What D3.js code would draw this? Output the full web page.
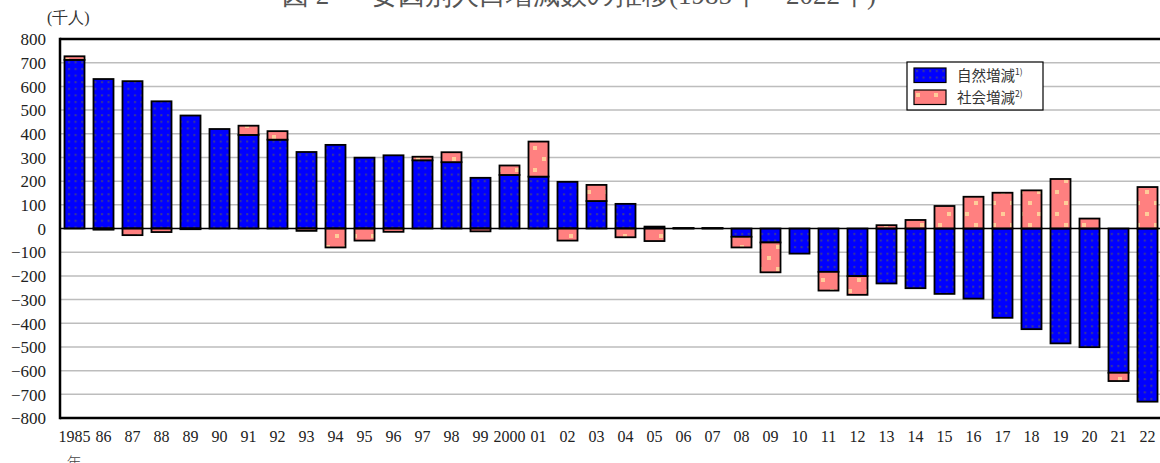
<!DOCTYPE html>
<html>
<head>
<meta charset="utf-8">
<script src="https://cdn.jsdelivr.net/npm/d3@7"></script>
<style>
  html, body { margin: 0; padding: 0; background: #fff; }
  svg { display: block; }
  .serif { font-family: "Liberation Serif", "Times New Roman", serif; }
  .jp { font-family: "Noto Sans CJK JP", sans-serif; }
</style>
</head>
<body>
<svg id="chart" width="1160" height="463"></svg>
<script>
// Population change by factor, thousands of persons
const years = [1985, 1986, 1987, 1988, 1989, 1990, 1991, 1992, 1993, 1994,
  1995, 1996, 1997, 1998, 1999, 2000, 2001, 2002, 2003, 2004,
  2005, 2006, 2007, 2008, 2009, 2010, 2011, 2012, 2013, 2014,
  2015, 2016, 2017, 2018, 2019, 2020, 2021, 2022];
const yearLabels = ["1985", "86", "87", "88", "89", "90", "91", "92", "93", "94",
  "95", "96", "97", "98", "99", "2000", "01", "02", "03", "04",
  "05", "06", "07", "08", "09", "10", "11", "12", "13", "14",
  "15", "16", "17", "18", "19", "20", "21", "22"];
const naturalChange = [712, 631, 622, 537, 477, 420, 395, 375, 323, 353,
  299, 309, 288, 280, 214, 226, 219, 197, 116, 104,
  8, 1, 1, -35, -59, -106, -183, -201, -232, -252,
  -276, -296, -377, -425, -485, -501, -609, -731];
const socialChange = [15, -5, -28, -15, -3, 0, 39, 36, -10, -80,
  -51, -14, 15, 42, -12, 40, 148, -51, 68, -37,
  -53, 1, 1, -45, -126, 0, -79, -79, 14, 36,
  95, 134, 151, 161, 209, 42, -35, 175];
const yTicks = [800, 700, 600, 500, 400, 300, 200, 100, 0, -100, -200, -300, -400, -500, -600, -700, -800];
const seriesNames = ["自然増減", "社会増減"];
const seriesNotes = ["1)", "2)"];

const svg = d3.select("#chart");
const W = 1160, H = 463;
const plotLeft = 60, plotRight = 1162, plotTop = 39, plotBottom = 418;

// fill patterns
const defs = svg.append("defs");
const pBlue = defs.append("pattern").attr("id", "pat-natural")
  .attr("patternUnits", "userSpaceOnUse").attr("width", 6.6).attr("height", 6.6);
pBlue.append("rect").attr("width", 6.6).attr("height", 6.6).attr("fill", "#0000ff");
pBlue.append("rect").attr("x", 2).attr("y", 2).attr("width", 2).attr("height", 2).attr("fill", "#3a3a96");

const pPink = defs.append("pattern").attr("id", "pat-social")
  .attr("patternUnits", "userSpaceOnUse").attr("width", 18).attr("height", 22);
pPink.append("rect").attr("width", 18).attr("height", 22).attr("fill", "#ff8080");
pPink.append("rect").attr("x", 2).attr("y", 3).attr("width", 4).attr("height", 4).attr("fill", "#ffcc99");
pPink.append("rect").attr("x", 11).attr("y", 14).attr("width", 4).attr("height", 4).attr("fill", "#ffcc99");

const fills = ["url(#pat-natural)", "url(#pat-social)"];

const x = d3.scaleBand().domain(years).range([plotLeft, plotRight])
  .paddingInner(0.31).paddingOuter(0.155);
const y = d3.scaleLinear().domain([-800, 800]).range([plotBottom, plotTop]);

// grid lines
svg.append("g").selectAll("line")
  .data(yTicks.filter(v => v !== 0 && Math.abs(v) !== 800))
  .join("line")
  .attr("x1", plotLeft).attr("x2", W)
  .attr("y1", d => y(d)).attr("y2", d => y(d))
  .attr("stroke", "#bdbdbd").attr("stroke-width", 1.5);

// stacked bars, positives upward and negatives downward from zero
const rows = years.map((yr, i) => ({ year: yr, natural: naturalChange[i], social: socialChange[i] }));
const stacked = d3.stack().keys(["natural", "social"])
  .offset(d3.stackOffsetDiverging)(rows);

stacked.forEach((layer, k) => {
  svg.append("g").selectAll("rect")
    .data(layer)
    .join("rect")
    .attr("x", d => x(d.data.year))
    .attr("width", x.bandwidth())
    .attr("y", d => y(Math.max(d[0], d[1])))
    .attr("height", d => Math.abs(y(d[0]) - y(d[1])))
    .attr("fill", fills[k])
    .attr("stroke", "#000")
    .attr("stroke-width", 1.8);
});

// zero line
svg.append("line")
  .attr("x1", plotLeft).attr("x2", W)
  .attr("y1", y(0)).attr("y2", y(0))
  .attr("stroke", "#000").attr("stroke-width", 1.5);

// frame
svg.append("line").attr("x1", plotLeft).attr("x2", W).attr("y1", plotTop).attr("y2", plotTop)
  .attr("stroke", "#000").attr("stroke-width", 2.5);
svg.append("line").attr("x1", plotLeft).attr("x2", W).attr("y1", plotBottom).attr("y2", plotBottom)
  .attr("stroke", "#000").attr("stroke-width", 2.5);
svg.append("line").attr("x1", plotLeft).attr("x2", plotLeft).attr("y1", plotTop - 1.2).attr("y2", plotBottom + 1.2)
  .attr("stroke", "#000").attr("stroke-width", 2.5);

// y axis labels
const yAxis = d3.axisLeft(y).tickValues(yTicks).tickSize(0).tickPadding(0)
  .tickFormat(d3.format("d"));
const gy = svg.append("g").attr("transform", "translate(46,0)").call(yAxis)
  .attr("font-family", null).attr("font-size", null);
gy.select(".domain").remove();
gy.selectAll("text")
  .attr("class", "serif")
  .style("font-size", "17px").attr("fill", "#222")
  .attr("dy", "0.34em");

// x axis labels
const xAxis = d3.axisBottom(x).tickSize(0).tickPadding(0)
  .tickFormat((d, i) => yearLabels[i]);
const gx = svg.append("g").attr("transform", "translate(0,431)").call(xAxis)
  .attr("font-family", null).attr("font-size", null);
gx.select(".domain").remove();
gx.selectAll("text")
  .attr("class", "serif")
  .style("font-size", "16px").attr("fill", "#222")
  .attr("dy", "0.71em");

svg.append("text").attr("class", "jp")
  .attr("x", x(1985) + x.bandwidth() / 2 - 0.5).attr("y", 468)
  .attr("text-anchor", "middle")
  .style("font-size", "15px").style("font-weight", 300).attr("fill", "#444")
  .text("年");

// unit label
svg.append("text").attr("class", "serif").attr("x", 47).attr("y", 23)
  .style("font-size", "16px").attr("fill", "#333")
  .text("(千人)");

// title
const title = svg.append("text").attr("class", "serif").attr("y", 4)
  .style("font-size", "27px").style("font-weight", 300).attr("fill", "#555");
title.append("tspan").attr("x", 282).text("図 2");
title.append("tspan").attr("x", 371).text("要因別人口増減数の推移(1985年－2022年)");

// legend
const lg = svg.append("g").attr("transform", "translate(907,62)");
lg.append("rect").attr("width", 136).attr("height", 48)
  .attr("fill", "#fff").attr("stroke", "#000").attr("stroke-width", 1.2);
seriesNames.forEach((name, k) => {
  const row = lg.append("g").attr("transform", `translate(7,${6 + k * 22})`);
  row.append("rect").attr("width", 32).attr("height", 14.5)
    .attr("fill", fills[k]).attr("stroke", "#000").attr("stroke-width", 1.2);
  const t = row.append("text").attr("class", "jp").attr("x", 43).attr("y", 12.5)
    .style("font-size", "14.5px").attr("fill", "#333")
    .text(name);
  t.append("tspan").style("font-size", "8.5px").attr("dy", -6).text(seriesNotes[k]);
});
</script>
</body>
</html>
